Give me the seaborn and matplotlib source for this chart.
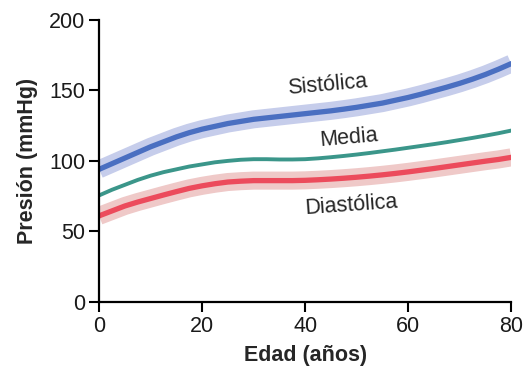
import pandas as pd
import matplotlib.pyplot as plt
import seaborn as sns
import numpy as np

# Presion arterial segun la edad

edad = [0, 2.5, 5, 7.5, 10, 12.5, 15, 17.5, 20, 22.5, 25, 27.5, 30, 32.5, 35, 37.5, 40,
        42.5, 45, 47.5, 50, 52.5, 55, 57.5, 60, 62.5, 65, 67.5, 70, 72.5, 75, 77.5, 80]
sistolica = [94, 98, 102, 106, 110, 113.5, 117, 120, 122.5, 124.5, 126.5, 128, 129.5, 130.5, 131.5, 132.5, 133.5,
             134.5, 135.5, 136.7, 138, 139.5, 141, 143, 145, 147.3, 149.8, 152.3, 155, 158, 161.3, 165, 169]
media = [75.5, 79.5, 83, 86.5, 89.5, 92, 94, 96, 97.5, 99, 100, 100.8, 101.2, 101.2, 101, 101, 101.2,
         101.8, 102.6, 103.5, 104.5, 105.6, 106.8, 108, 109.3, 110.6, 111.9, 113.3, 114.8, 116.3, 117.9, 119.6, 121.5]
diastolica = [61, 64.5, 68, 70.8, 73.3, 75.8, 78.2, 80.5, 82.3, 83.8, 85, 85.6, 86, 86, 86, 86, 86.2,
              86.6, 87.1, 87.7, 88.4, 89.2, 90.1, 91.1, 92.2, 93.4, 94.6, 95.9, 97.2, 98.5, 99.8, 101, 102.5]

x_ticks = [0, 20, 40, 60, 80]
y_ticks = [0, 50, 100, 150, 200]

df = pd.DataFrame({'Edad': edad, 'Sistolica': sistolica, 'Media': media, 'Diastolica': diastolica})

sns.set_style("ticks")
plt.rcParams['font.family'] = ['Liberation Sans', 'DejaVu Sans']

fig = plt.figure(figsize=(5.27, 3.69), dpi=100)
ax = fig.add_axes([0.188, 0.182, 0.782, 0.764])

# bandas claras
sns.lineplot(data=df, x='Edad', y='Sistolica', color='#c6cdeb', linewidth=13, ax=ax,
             solid_capstyle='butt')
sns.lineplot(data=df, x='Edad', y='Diastolica', color='#efc9c8', linewidth=13, ax=ax,
             solid_capstyle='butt')

# lineas
sns.lineplot(data=df, x='Edad', y='Sistolica', color='#4a6fc1', linewidth=3.8, ax=ax)
sns.lineplot(data=df, x='Edad', y='Media', color='#3b968a', linewidth=2.8, ax=ax)
sns.lineplot(data=df, x='Edad', y='Diastolica', color='#ec4b5c', linewidth=3.8, ax=ax)

ax.text(44.3, 154, 'Sistólica', fontsize=15.5, rotation=5, ha='center', va='center')
ax.text(48.5, 116, 'Media', fontsize=15.5, rotation=5, ha='center', va='center')
ax.text(49, 68.5, 'Diastólica', fontsize=15.5, rotation=4, ha='center', va='center')

ax.set_xlim(0, 80)
ax.set_ylim(0, 200)
ax.set_xticks(x_ticks)
ax.set_yticks(y_ticks)
ax.tick_params(labelsize=15.5, width=1.5, length=7, pad=3, color='black', labelcolor='#1a1a1a')
for s in ['left', 'bottom']:
    ax.spines[s].set_linewidth(1.6)
    ax.spines[s].set_color('black')
sns.despine(ax=ax)

ax.set_xlabel("Edad (años)", fontsize=15.5, fontweight='bold', labelpad=6)
ax.set_ylabel("Presión (mmHg)", fontsize=15.5, fontweight='bold', labelpad=8)

fig.savefig("out.png", dpi=100)
